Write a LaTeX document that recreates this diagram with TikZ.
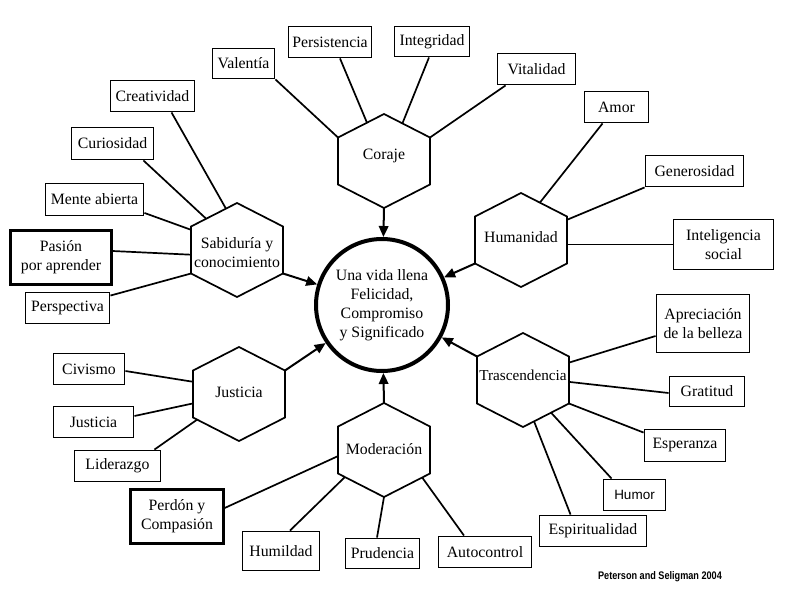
\documentclass[tikz,border=0pt]{standalone}
\usepackage{fontspec}
\setmainfont{Liberation Serif}
\newfontfamily\humorfont{Liberation Sans}
\usetikzlibrary{calc, arrows.meta}

\begin{document}
\begin{tikzpicture}[x=1pt, y=-1pt,
    font=\fontsize{15.8}{19}\selectfont,
    box/.style={draw, line width=1.9pt, inner sep=0pt, align=center},
    link/.style={line width=1.7pt},
    into/.style={line width=2pt, -{Triangle[length=11pt,width=9.5pt]}}]
  \useasboundingbox (0,0) rectangle (788,603);
  % the six virtues
  \foreach \n/\x/\y in {sab/237/250, cor/384/161, hum/521/240, tra/523/380, jus/239/394, mod/384/450}
    \draw[line width=1.7pt, line join=miter] (\x,\y) ++(0,-47) coordinate (\n1) -- ++(46,23.5) coordinate (\n2)
      -- ++(0,47) coordinate (\n3) -- ++(-46,23.5) coordinate (\n4)
      -- ++(-46,-23.5) coordinate (\n5) -- ++(0,-47) coordinate (\n6) -- cycle;
  \node[align=center] (sabiduria) at (237,253) {Sabiduría y\\conocimiento};
  \node (coraje) at (384,156) {Coraje};
  \node (humanidad) at (521,237) {Humanidad};
  \node[font=\fontsize{15.2}{19}\selectfont] (trascendencia) at (523,375) {Trascendencia};
  \node (justicia) at (239,392) {Justicia};
  \node (moderacion) at (384,449) {Moderación};
  \node[circle, draw, line width=4pt, minimum size=132pt, inner sep=0pt, align=center] (vida) at (382,305)
    {Una vida llena\\Felicidad,\\Compromiso\\y Significado};
  % strengths
  \node[box, minimum width=62pt, minimum height=30pt] (valentia) at (243.5,63.5) {Valentía};
  \node[box, minimum width=83pt, minimum height=31pt] (persist) at (330,42) {Persistencia};
  \node[box, minimum width=75pt, minimum height=30pt] (integ) at (432,41.5) {Integridad};
  \node[box, minimum width=78pt, minimum height=31pt] (vital) at (536.5,69) {Vitalidad};
  \node[box, minimum width=64pt, minimum height=31pt] (amor) at (616.5,107) {Amor};
  \node[box, minimum width=98pt, minimum height=31pt] (generos) at (694.5,171) {Generosidad};
  \node[box, minimum width=100pt, minimum height=50pt] (intelig) at (723.5,244.5) {Inteligencia\\social};
  \node[box, minimum width=93pt, minimum height=58pt] (aprec) at (703,323.5) {Apreciación\\de la belleza};
  \node[box, minimum width=75pt, minimum height=30pt] (gratitud) at (707,391.5) {Gratitud};
  \node[box, minimum width=81pt, minimum height=32pt] (esperanza) at (685,445.5) {Esperanza};
  \node[box, minimum width=62pt, minimum height=31pt, font=\humorfont\fontsize{13.5}{16}\selectfont] (humor) at (634.5,495) {Humor};
  \node[box, minimum width=107pt, minimum height=31pt] (espirit) at (593,531) {Espiritualidad};
  \node[box, minimum width=93pt, minimum height=31pt] (autocontrol) at (485,552) {Autocontrol};
  \node[box, minimum width=74pt, minimum height=30pt] (prudencia) at (382.5,553.5) {Prudencia};
  \node[box, minimum width=77pt, minimum height=39pt] (humildad) at (281,551) {Humildad};
  \node[box, minimum width=93pt, minimum height=54pt, line width=2.3pt] (perdon) at (177,516.5) {Perdón y\\Compasión};
  \node[box, minimum width=86pt, minimum height=31pt] (liderazgo) at (117.5,466) {Liderazgo};
  \node[box, minimum width=80pt, minimum height=31pt] (equidad) at (93.5,422) {Justicia};
  \node[box, minimum width=71pt, minimum height=31pt] (civismo) at (89,369) {Civismo};
  \node[box, minimum width=84pt, minimum height=31pt] (perspectiva) at (67.5,308) {Perspectiva};
  \node[box, minimum width=101pt, minimum height=54pt, line width=2.3pt] (pasion) at (61,257.5) {Pasión\\por aprender};
  \node[box, minimum width=98pt, minimum height=32pt] (mente) at (94.5,199.5) {Mente abierta};
  \node[box, minimum width=82pt, minimum height=32pt] (curiosidad) at (112.5,143.5) {Curiosidad};
  \node[box, minimum width=84pt, minimum height=31pt] (creatividad) at (152.5,96) {Creatividad};
  % links to the virtues
  \draw[link] ([xshift=19pt]creatividad.south) -- ($(sab6)!0.76!(sab1)$);
  \draw[link] ([xshift=-11pt]curiosidad.south east) -- ($(sab6)!0.33!(sab1)$);
  \draw[link] ([yshift=3.5pt]mente.south east) -- ($(sab6)!0.07!(sab5)$);
  \draw[link] ([yshift=6.5pt]pasion.east) -- ($(sab6)!0.6!(sab5)$);
  \draw[link] ([yshift=-4pt]perspectiva.north east) -- (sab5);
  \draw[link] (valentia.south east) -- (cor6);
  \draw[link] ([xshift=10pt]persist.south) -- ($(cor6)!0.63!(cor1)$);
  \draw[link] ([xshift=-3pt]integ.south) -- ($(cor1)!0.4!(cor2)$);
  \draw[link] ([xshift=9pt]vital.south west) -- (cor2);
  \draw[link] ([xshift=19pt]amor.south west) -- ($(hum1)!0.41!(hum2)$);
  \draw[link] (generos.south west) -- ($(hum2)!0.07!(hum3)$);
  \draw[link] (intelig.west) -- (intelig.west -| hum2);
  \draw[link] ([yshift=-12.5pt]aprec.west) -- ($(tra2)!0.13!(tra3)$);
  \draw[link] ([yshift=-1.5pt]gratitud.west) -- ($(tra2)!0.54!(tra3)$);
  \draw[link] ([yshift=-4pt]esperanza.north west) -- (tra3);
  \draw[link] ([xshift=9pt]humor.north west) -- ($(tra3)!0.39!(tra4)$);
  \draw[link] ([xshift=32pt]espirit.north west) -- ($(tra3)!0.76!(tra4)$);
  \draw[link] ([xshift=-21pt]autocontrol.north) -- ($(mod3)!0.17!(mod4)$);
  \draw[link] ([xshift=-5.5pt]prudencia.north) -- (mod4);
  \draw[link] ([xshift=9pt]humildad.north) -- ($(mod5)!0.15!(mod4)$);
  \draw[link] ([yshift=8.5pt]perdon.east) -- ($(mod6)!0.63!(mod5)$);
  \draw[link] ([xshift=-7pt]liderazgo.north east) -- ($(jus5)!0.09!(jus4)$);
  \draw[link] ([yshift=6pt]equidad.east) -- ($(jus6)!0.7!(jus5)$);
  \draw[link] ([yshift=-2pt]civismo.east) -- ($(jus6)!0.24!(jus5)$);
  % virtues into the good life
  \draw[into] (sab3) -- (vida);
  \draw[into] (cor4) -- (vida);
  \draw[into] (hum5) -- (vida);
  \draw[into] (tra6) -- (vida);
  \draw[into] (jus2) -- (vida);
  \draw[into] (mod1) -- (vida);
  \node[font=\humorfont\bfseries\fontsize{11}{13}\selectfont, xscale=0.83, transform shape] (fuente) at (660,577) {Peterson and Seligman 2004};
\end{tikzpicture}
\end{document}
